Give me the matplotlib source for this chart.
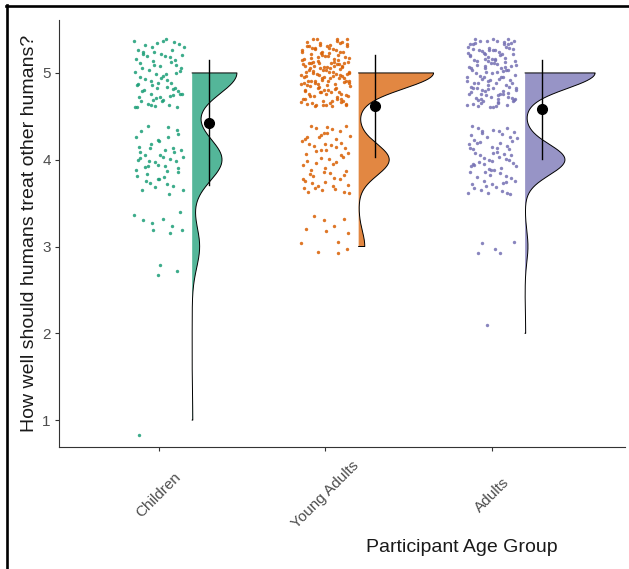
import numpy as np
import matplotlib
matplotlib.use('Agg')
import matplotlib.pyplot as plt
from matplotlib.lines import Line2D

plt.rcParams['font.family'] = ['Liberation Sans', 'DejaVu Sans']

groups = ["Children", "Young Adults", "Adults"]
levels = [1, 2, 3, 4, 5]
children_counts = [1, 0, 12, 48, 72]
young_counts = [0, 0, 12, 60, 147]
adult_counts = [0, 1, 5, 70, 123]
colors = ["#1B9E77", "#D95F02", "#7570B3"]
y_ticks = [1, 2, 3, 4, 5]

x_title = "Participant Age Group"
y_title = "How well should humans treat other humans?"


def halton(i, base):
    # deterministic low-discrepancy sequence, used for the jitter
    f, r = 1.0, 0.0
    while i > 0:
        f /= base
        r += f * (i % base)
        i //= base
    return r


def nrd0(x):
    # R's default bandwidth
    hi = np.std(x, ddof=1)
    q75, q25 = np.percentile(x, [75, 25])
    lo = min(hi, (q75 - q25) / 1.34)
    return 0.9 * lo * len(x) ** -0.2


def density(x, grid):
    bw = nrd0(x)
    z = (grid[:, None] - x[None, :]) / bw
    return np.exp(-0.5 * z ** 2).sum(axis=1) / (len(x) * bw * np.sqrt(2 * np.pi))


data = [np.repeat(levels, c).astype(float) for c in (children_counts, young_counts, adult_counts)]

W, H = 629, 569
fig = plt.figure(figsize=(W / 100, H / 100), dpi=100)
ax = fig.add_axes([59 / W, 1 - 447 / H, (625 - 59) / W, (447 - 20) / H])

# densities first so all violins share one scale ("area")
grids = []
dens = []
for vals in data:
    g = np.linspace(vals.min(), vals.max(), 512)
    grids.append(g)
    dens.append(density(vals, g))
dmax = max(d.max() for d in dens)

for i, vals in enumerate(data):
    pos = i + 1
    col = colors[i]

    # jittered raw points (scattered indices into a halton sequence)
    k = (np.arange(len(vals)) * 7919 + 311 * (i + 1)) % 2003 + 1
    jx = np.array([halton(j, 2) for j in k]) * 2 - 1
    jy = np.array([halton(j, 3) for j in k]) * 2 - 1
    ax.scatter(pos + 0.15 * jx, vals + 0.4 * jy, s=6, color=col, alpha=0.85,
               linewidths=0, zorder=2)

    # flat (half) violin nudged right
    x0 = pos + 0.2
    xs = x0 + 0.45 * dens[i] / dmax
    px = np.concatenate([[x0], xs, [x0]])
    py = np.concatenate([[grids[i][0]], grids[i], [grids[i][-1]]])
    ax.fill(px, py, facecolor=col, alpha=0.75, zorder=3)
    ax.plot(px, py, color='black', lw=0.7, zorder=4)

    # mean +- sd
    m = vals.mean()
    sd = vals.std(ddof=1)
    ax.plot([pos + 0.3, pos + 0.3], [m - sd, m + sd], color='black', lw=1.0, zorder=5)
    ax.plot(pos + 0.3, m, 'o', color='black', markersize=7, zorder=6)

ax.set_xlim(0.4, 3.8)
ax.set_ylim(0.69, 5.61)
ax.set_yticks(y_ticks)
ax.set_xticks([1, 2, 3])
ax.set_xticklabels(groups, rotation=45, ha='center', va='center', rotation_mode='default')

for s in ['top', 'right']:
    ax.spines[s].set_visible(False)
for s in ['left', 'bottom']:
    ax.spines[s].set_color('#333333')
    ax.spines[s].set_linewidth(0.8)

ax.tick_params(axis='both', colors='#333333', length=3, width=0.8, labelsize=11,
               labelcolor='#4D4D4D')
ax.tick_params(axis='x', pad=31.5)
ax.tick_params(axis='y', pad=3)

ax.set_ylabel(y_title, fontsize=14, color='#1A1A1A')
ax.yaxis.set_label_coords(-21 / 566, 0.5)
fig.text(462 / W, 1 - 547 / H, x_title, fontsize=14, color='#1A1A1A', ha='center', va='center')

# black frame on top and left edges
fig.add_artist(Line2D([6 / W, 1], [1 - 6 / H, 1 - 6 / H], transform=fig.transFigure,
                      color='black', lw=1.9))
fig.add_artist(Line2D([7 / W, 7 / W], [0, 1 - 5 / H], transform=fig.transFigure,
                      color='black', lw=1.9))

fig.savefig("out.png", dpi=100)
plt.close(fig)
